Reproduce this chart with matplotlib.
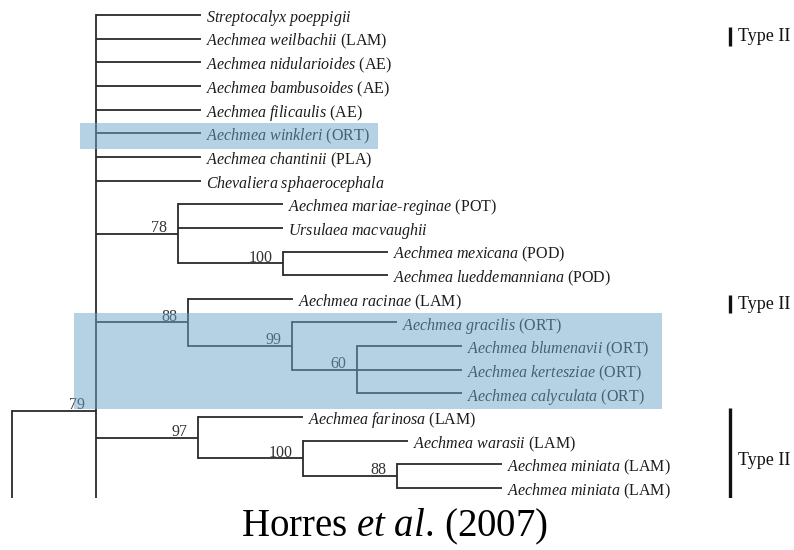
import matplotlib.pyplot as plt
from matplotlib.patches import Rectangle

plt.rcParams['font.family'] = ['Liberation Serif', 'DejaVu Serif']
plt.rcParams['mathtext.fontset'] = 'custom'
plt.rcParams['mathtext.rm'] = 'Liberation Serif'
plt.rcParams['mathtext.it'] = 'Liberation Serif:italic'

# taxa, top to bottom (row index = position in list)
taxa = [
    "Streptocalyx poeppigii", "Aechmea weilbachii", "Aechmea nidularioides",
    "Aechmea bambusoides", "Aechmea filicaulis", "Aechmea winkleri",
    "Aechmea chantinii", "Chevaliera sphaerocephala", "Aechmea mariae-reginae",
    "Ursulaea macvaughii", "Aechmea mexicana", "Aechmea lueddemanniana",
    "Aechmea racinae", "Aechmea gracilis", "Aechmea blumenavii",
    "Aechmea kertesziae", "Aechmea calyculata", "Aechmea farinosa",
    "Aechmea warasii", "Aechmea miniata", "Aechmea miniata",
]
groups = [
    "", "LAM", "AE", "AE", "AE", "ORT", "PLA", "", "POT", "", "POD", "POD",
    "LAM", "ORT", "ORT", "ORT", "ORT", "LAM", "LAM", "LAM", "LAM",
]
# the tree goes on below the cropped picture: unnamed rows 21..36
hidden = list(range(21, 37))

# clades: (children, branch length, bootstrap); ints are tips
tip_len = 105
c100a = ([10, 11], 105, 100)
c78 = ([8, 9, c100a], 82, 78)
c60 = ([14, 15, 16], 65, 60)
c99 = ([13, c60], 104, 99)
c88 = ([12, c99], 92, 88)
c88b = ([19, 20], 94, 88)
c100b = ([18, c88b], 105, 100)
c97 = ([17, c100b], 102, 97)
rest = ([33, 34], 100, None)
ingroup = ([0, 1, 2, 3, 4, 5, 6, 7, c78, c88, c97] + hidden[:12] + [rest], 84, 79)
outgroup = ([35, 36], 100, None)
root = ([ingroup, outgroup], 0, None)

highlight_rows = [(5, 5), (13, 16)]
type_labels = ["Type II", "Type II", "Type II"]
type_rows = [(0.5, 1.3), (11.85, 12.6), (16.6, 21.5)]

LINE = '#2a2a2a'
TXT = '#1c1c1c'

fig = plt.figure(figsize=(7.94, 5.5), dpi=100)
ax = fig.add_axes([0, 52 / 550, 1, 498 / 550])
ax.set_xlim(0, 794)
ax.set_ylim(20.42, -0.634)
ax.axis('off')


def label_for(i):
    name = taxa[i] if i < len(taxa) else ""
    if not name:
        return ""
    parts = name.split("-")
    s = "-".join(r"$\it{" + p.replace(" ", r"\ ") + "}$" for p in parts)
    if groups[i]:
        s += f" ({groups[i]})"
    return s


def draw(node, x0):
    if isinstance(node, int):
        x1 = x0 + tip_len
        ax.plot([x0, x1], [node, node], color=LINE, lw=1.3, solid_capstyle='butt')
        txt = label_for(node)
        if txt:
            ax.annotate(txt, (x1, node), xytext=(3.6, -5.2), textcoords='offset points',
                        ha='left', va='baseline', fontsize=11.5, color=TXT)
        return node
    children, length, support = node
    x1 = x0 + length
    ys = [draw(c, x1) for c in children]
    y = (ys[0] + ys[-1]) / 2
    ax.plot([x1, x1], [ys[0], ys[-1]], color=LINE, lw=1.3)
    if length > 0:
        ax.plot([x0, x1], [y, y], color=LINE, lw=1.3, solid_capstyle='butt')
    if support is not None:
        ax.annotate(str(support), (x1, y), xytext=(-7.8, 1.3), textcoords='offset points',
                    ha='right', va='baseline', fontsize=11.5, color='#333333')
    return y


draw(root, 12)

# highlighted ORT taxa (translucent overlay on top of the tree)
box_x = [(80, 378), (74, 662)]
for (r0, r1), (bx0, bx1) in zip(highlight_rows, box_x):
    ax.add_patch(Rectangle((bx0, r0 - 0.42), bx1 - bx0, (r1 - r0) + 1.08,
                           facecolor='#6ca5ca', alpha=0.5, edgecolor='none', zorder=10))

# Type II brackets
for lab, (r0, r1) in zip(type_labels, type_rows):
    ax.plot([730, 730], [r0, r1], color='#111111', lw=2.4, solid_capstyle='butt')
    ax.text(738, (r0 + r1) / 2 if r1 < 20 else 18.85, lab, ha='left', va='center',
            fontsize=13, color='#111111')

fig.text(395 / 794, 1 - 527 / 550, r"Horres $\it{et\ al.}\,$(2007)", ha='center', va='center',
         fontsize=28, color='black')

fig.savefig("out.png", dpi=100)
